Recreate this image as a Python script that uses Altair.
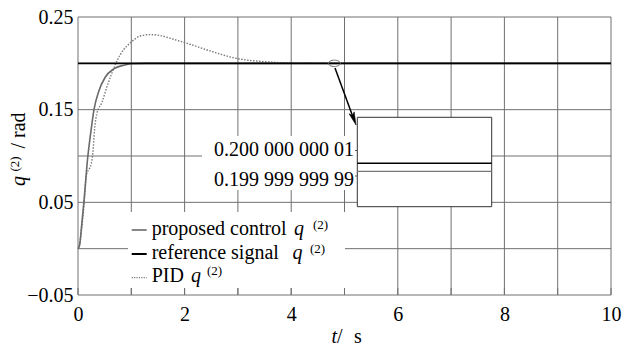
import altair as alt
import pandas as pd

# ---------------- data ----------------
t_ticks = [0, 1, 2, 3, 4, 5, 6, 7, 8, 9, 10]
q_ticks = [-0.05, 0.0, 0.05, 0.10, 0.15, 0.20, 0.25]

t_prop = [0, 0.03, 0.07, 0.11, 0.18, 0.25, 0.30, 0.39, 0.51, 0.67, 0.86, 1.0, 1.3, 10]
q_prop = [0, 0.004, 0.026, 0.050, 0.097, 0.130, 0.150, 0.170, 0.185, 0.194, 0.198, 0.1995, 0.2, 0.2]

t_pid = [0, 0.03, 0.07, 0.11, 0.16, 0.22, 0.25, 0.28, 0.31, 0.35, 0.45, 0.55, 0.64, 0.73,
         0.86, 0.98, 1.17, 1.36, 1.54, 1.79, 2.1, 2.5, 3.0, 3.5, 4.0, 4.5, 10]
q_pid = [0, 0.004, 0.022, 0.045, 0.080, 0.087, 0.092, 0.104, 0.128, 0.145, 0.158, 0.176, 0.190, 0.2025,
         0.215, 0.222, 0.2295, 0.231, 0.230, 0.226, 0.2206, 0.213, 0.205, 0.2018, 0.2003, 0.2, 0.2]

t_ref = [0, 10]
q_ref = [0.2, 0.2]

inset_vals = [0.20000000001, 0.19999999999]
inset_labels = ["0.200 000 000 01", "0.199 999 999 99"]
inset_ref = 0.2
inset_prop = 0.1999999999937

mark_t = [4.81]
mark_q = [0.2]

legend_labels = ["proposed control", "reference signal", "PID"]

# ---------------- layout ----------------
W, H = 533, 278
LEFT, TOP = 78, 17
SERIF = "Liberation Serif"
GRID = "#707070"


def px(x):
    return x - LEFT


def py(y):
    return y - TOP


xs = alt.Scale(domain=[0, 10], nice=False, zero=False)
ys = alt.Scale(domain=[-0.05, 0.25], nice=False, zero=False)

x_axis = alt.Axis(values=t_ticks, format="d",
                  labelExpr="datum.value % 2 == 0 ? datum.label : ''",
                  ticks=False, tickSize=0, domain=False, grid=False,
                  labelFont=SERIF, labelFontSize=20, labelColor="black",
                  labelPadding=9, labelFlush=False, labelOverlap=False, title=None)
y_axis = alt.Axis(values=q_ticks,
                  labelExpr="abs(abs(datum.value*100) % 10 - 5) < 0.01 ? replace(format(datum.value, '.2f'), '-', '\u2212') : ''",
                  ticks=False, tickSize=0, domain=False, grid=False,
                  labelFont=SERIF, labelFontSize=20, labelColor="black",
                  labelPadding=5, labelFlush=False, labelOverlap=False, title=None)

X = alt.X("t:Q", scale=xs, axis=x_axis)
Y = alt.Y("q:Q", scale=ys, axis=y_axis)

one = pd.DataFrame({"a": [0]})
df_t = pd.DataFrame({"t": t_ticks})
df_q = pd.DataFrame({"q": q_ticks})

vgrid = alt.Chart(df_t).mark_rule(color=GRID, strokeWidth=1).encode(
    x=X, y=alt.value(0), y2=alt.value(H))
hgrid = alt.Chart(df_q).mark_rule(color=GRID, strokeWidth=1).encode(
    y=Y, x=alt.value(0), x2=alt.value(W))


def box(x1, x2, y1, y2, stroke=None):
    kw = dict(fill="white")
    if stroke:
        kw.update(stroke=stroke, strokeWidth=1)
    return alt.Chart(one).mark_rect(**kw).encode(
        x=alt.value(px(x1)), x2=alt.value(px(x2)),
        y=alt.value(py(y1)), y2=alt.value(py(y2)))


legend_box = box(128, 345, 212, 288)
label_box = box(202, 357, 136, 190)
inset_box = box(357.3, 491.7, 117.3, 206.7, stroke="#333333")

bottom_ticks = alt.Chart(df_t).mark_rule(color=GRID, strokeWidth=1).encode(
    x=X, y=alt.value(H - 7), y2=alt.value(H))

df_prop = pd.DataFrame({"t": t_prop, "q": q_prop})
df_pid = pd.DataFrame({"t": t_pid, "q": q_pid})
df_ref = pd.DataFrame({"t": t_ref, "q": q_ref})

pid_line = alt.Chart(df_pid).mark_line(color="#7a7a7a", strokeWidth=1.4, strokeDash=[1.5, 1.5],
                                       interpolate="monotone").encode(x=X, y=Y, order="t:Q")
prop_line = alt.Chart(df_prop).mark_line(color="#6a6a6a", strokeWidth=1.6,
                                         interpolate="monotone").encode(x=X, y=Y, order="t:Q")
ref_line = alt.Chart(df_ref).mark_line(color="black", strokeWidth=1.6).encode(x=X, y=Y)

ell_path = ("M -1 0 C -1 -0.293 -0.552 -0.53 0 -0.53 C 0.552 -0.53 1 -0.293 1 0 "
            "C 1 0.293 0.552 0.53 0 0.53 C -0.552 0.53 -1 0.293 -1 0 Z")
ellipse = alt.Chart(pd.DataFrame({"t": mark_t, "q": mark_q})).mark_point(
    shape=ell_path, size=144, filled=False, stroke="#707070", strokeWidth=1, opacity=1
).encode(x=X, y=Y)

arrow_line = alt.Chart(one).mark_rule(color="black", strokeWidth=1.5).encode(
    x=alt.value(px(335)), y=alt.value(py(68)),
    x2=alt.value(px(353.5)), y2=alt.value(py(118.5)))
arrow_head = alt.Chart(one).mark_point(
    shape="M 0 1 L -0.42 -1 L 0 -0.55 L 0.42 -1 Z", size=169, filled=True,
    fill="black", stroke="black", strokeWidth=0.5, opacity=1, angle=340
).encode(x=alt.value(px(353.8)), y=alt.value(py(118.9)))


def txt(s, x, y, size=20, style=None, align="left", baseline="alphabetic", angle=0):
    kw = dict(text=s, font=SERIF, fontSize=size, align=align, baseline=baseline)
    if style:
        kw["fontStyle"] = style
    if angle:
        kw["angle"] = angle
    return alt.Chart(one).mark_text(**kw).encode(x=alt.value(px(x)), y=alt.value(py(y)))


# legend
leg_base = [235, 259, 281.7]
leg_line_y = [230, 254, 277.7]
leg_q_x = [294, 292.5, 191]
leg_sup_x = [313, 310, 207]
leg_styles = [dict(color="#6a6a6a", strokeWidth=1.6),
              dict(color="black", strokeWidth=2),
              dict(color="#7a7a7a", strokeWidth=1.2, strokeDash=[1.2, 1.2])]
legend_layers = []
for i, lab in enumerate(legend_labels):
    legend_layers.append(alt.Chart(one).mark_rule(**leg_styles[i]).encode(
        x=alt.value(px(131.7)), x2=alt.value(px(146.7)),
        y=alt.value(py(leg_line_y[i]))))
    legend_layers.append(txt(lab, 151.7, leg_base[i]))
    legend_layers.append(txt("q", leg_q_x[i], leg_base[i], style="italic"))
    legend_layers.append(txt("(2)", leg_sup_x[i], leg_base[i] - 6.5, size=13))

# axis titles
titles = [
    txt("q", 25, 186, style="italic", angle=270),
    txt("(2)", 18.5, 171.5, size=13, angle=270),
    txt("/ rad", 25, 148.5, angle=270),
    txt("t", 331.5, 343, style="italic"),
    txt("/", 337, 343),
    txt("s", 354, 343),
]

# ---------------- inset (zoomed y values mapped to the inset box) ----------------
ppu = (176 - 150.5) / (inset_vals[0] - inset_vals[1])


def iy(v):
    return py(150.5 - (v - inset_vals[0]) * ppu)


inset_layers = [
    alt.Chart(one).mark_rule(color="black", strokeWidth=1.5).encode(
        y=alt.value(iy(inset_ref)), x=alt.value(px(357.3)), x2=alt.value(px(491.7))),
    alt.Chart(one).mark_rule(color="#777777", strokeWidth=1.2).encode(
        y=alt.value(iy(inset_prop)), x=alt.value(px(357.3)), x2=alt.value(px(491.7))),
]
for i, (v, lab) in enumerate(zip(inset_vals, inset_labels)):
    inset_layers.append(alt.Chart(one).mark_rule(color="#555555", strokeWidth=1).encode(
        y=alt.value(iy(v)), x=alt.value(px(355)), x2=alt.value(px(357.3))))
    inset_layers.append(txt(lab, 354, iy(v) + TOP + (-1 if i == 0 else 4), align="right",
                            baseline="middle"))

chart = alt.layer(vgrid, hgrid, legend_box, label_box, inset_box, bottom_ticks,
                  pid_line, prop_line, ref_line, ellipse, arrow_line, arrow_head,
                  *inset_layers, *legend_layers, *titles).properties(
    width=W, height=H,
    autosize=alt.AutoSizeParams(type="none"),
    padding={"left": LEFT, "top": TOP, "right": 622 - LEFT - W, "bottom": 349 - TOP - H},
    background="white",
).configure_view(stroke=None)

chart.save("out.html", embed_options={"renderer": "svg", "actions": False})
